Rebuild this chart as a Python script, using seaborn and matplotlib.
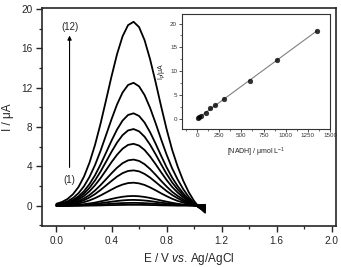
import numpy as np
import pandas as pd
import matplotlib
matplotlib.use("Agg")
import matplotlib.pyplot as plt
from matplotlib.ticker import MultipleLocator
import seaborn as sns

# ---------------- data ----------------
potential = [0.00, 0.04, 0.08, 0.12, 0.16, 0.20, 0.24, 0.28, 0.32, 0.36, 0.40, 0.44, 0.48, 0.52,
             0.56, 0.60, 0.64, 0.68, 0.72, 0.76, 0.80, 0.84, 0.88, 0.92, 0.96, 1.00, 1.04, 1.08]

curve_1 = [0.00, 0.00, 0.00, 0.01, 0.01, 0.02, 0.02, 0.03, 0.04, 0.06, 0.07, 0.08, 0.09, 0.10,
           0.10, 0.10, 0.09, 0.08, 0.07, 0.05, 0.04, 0.03, 0.02, 0.03, 0.04, 0.06, 0.08, 0.10]
curve_2 = [0.00, 0.01, 0.01, 0.02, 0.03, 0.05, 0.07, 0.10, 0.13, 0.17, 0.21, 0.25, 0.28, 0.29,
           0.30, 0.29, 0.27, 0.24, 0.20, 0.16, 0.12, 0.09, 0.06, 0.05, 0.04, 0.04, 0.05, 0.05]
curve_3 = [0.01, 0.01, 0.02, 0.04, 0.06, 0.10, 0.14, 0.20, 0.27, 0.34, 0.42, 0.49, 0.55, 0.59,
           0.60, 0.58, 0.54, 0.48, 0.40, 0.32, 0.25, 0.18, 0.13, 0.09, 0.05, 0.03, 0.02, 0.01]
curve_4 = [0.01, 0.02, 0.04, 0.06, 0.10, 0.16, 0.24, 0.33, 0.45, 0.57, 0.70, 0.82, 0.92, 0.98,
           1.00, 0.97, 0.90, 0.80, 0.67, 0.54, 0.42, 0.31, 0.21, 0.13, 0.07, 0.02, -0.03, -0.05]
curve_5 = [0.03, 0.05, 0.09, 0.15, 0.24, 0.37, 0.55, 0.78, 1.05, 1.35, 1.65, 1.94, 2.16, 2.31,
           2.35, 2.28, 2.12, 1.87, 1.58, 1.27, 0.98, 0.72, 0.50, 0.33, 0.17, 0.05, -0.03, -0.10]
curve_6 = [0.04, 0.08, 0.13, 0.23, 0.37, 0.57, 0.85, 1.19, 1.61, 2.07, 2.53, 2.97, 3.32, 3.54,
           3.60, 3.50, 3.24, 2.87, 2.42, 1.95, 1.50, 1.10, 0.77, 0.48, 0.25, 0.06, -0.09, -0.20]
curve_7 = [0.05, 0.10, 0.17, 0.30, 0.48, 0.75, 1.10, 1.56, 2.10, 2.70, 3.31, 3.87, 4.33, 4.62,
           4.70, 4.56, 4.23, 3.74, 3.16, 2.54, 1.96, 1.43, 1.01, 0.64, 0.33, 0.08, -0.11, -0.25]
curve_8 = [0.07, 0.13, 0.23, 0.40, 0.64, 1.00, 1.48, 2.09, 2.81, 3.62, 4.44, 5.19, 5.80, 6.19,
           6.30, 6.12, 5.67, 5.01, 4.23, 3.41, 2.62, 1.92, 1.35, 0.86, 0.45, 0.12, -0.13, -0.30]
curve_9 = [0.09, 0.16, 0.29, 0.49, 0.80, 1.24, 1.83, 2.58, 3.48, 4.48, 5.49, 6.43, 7.18, 7.66,
           7.80, 7.57, 7.02, 6.21, 5.24, 4.22, 3.24, 2.38, 1.67, 1.07, 0.55, 0.13, -0.18, -0.40]
curve_10 = [0.10, 0.20, 0.35, 0.59, 0.96, 1.49, 2.21, 3.11, 4.19, 5.40, 6.62, 7.75, 8.66, 9.23,
            9.40, 9.13, 8.46, 7.48, 6.32, 5.09, 3.91, 2.87, 2.01, 1.28, 0.67, 0.18, -0.20, -0.45]
curve_11 = [0.14, 0.26, 0.46, 0.79, 1.28, 1.99, 2.94, 4.14, 5.58, 7.18, 8.80, 10.30, 11.51, 12.28,
            12.50, 12.14, 11.25, 9.95, 8.40, 6.76, 5.20, 3.81, 2.68, 1.71, 0.91, 0.26, -0.22, -0.55]
curve_12 = [0.21, 0.39, 0.69, 1.18, 1.91, 2.97, 4.39, 6.19, 8.34, 10.73, 13.16, 15.41, 17.22, 18.36,
            18.70, 18.16, 16.83, 14.89, 12.57, 10.12, 7.78, 5.70, 4.00, 2.57, 1.40, 0.48, -0.20, -0.70]

curves = [curve_1, curve_2, curve_3, curve_4, curve_5, curve_6,
          curve_7, curve_8, curve_9, curve_10, curve_11, curve_12]

nadh_conc = [10, 25, 50, 100, 150, 200, 300, 600, 900, 1350]
peak_current = [0.15, 0.35, 0.7, 1.35, 2.2, 2.9, 4.1, 8.0, 12.3, 18.5]

main_xticks = [0.0, 0.4, 0.8, 1.2, 1.6, 2.0]
main_yticks = [0, 4, 8, 12, 16, 20]
inset_xticks = [0, 250, 500, 750, 1000, 1250, 1500]
inset_yticks = [0, 5, 10, 15, 20]

# ---------------- style ----------------
sns.set_style("ticks")
plt.rcParams["font.family"] = ["Liberation Sans", "DejaVu Sans"]
plt.rcParams["mathtext.fontset"] = "custom"
plt.rcParams["mathtext.rm"] = "Liberation Sans"
plt.rcParams["mathtext.it"] = "Liberation Sans:italic"

rows = []
for k, c in enumerate(curves):
    for e, i in zip(potential, c):
        rows.append({"E": e, "I": i, "curve": k + 1})
df = pd.DataFrame(rows)

fig = plt.figure(figsize=(3.41, 2.67), dpi=100)
ax = fig.add_axes([0.1232, 0.1536, 0.862, 0.8164])

sns.lineplot(data=df, x="E", y="I", units="curve", estimator=None, sort=False,
             color="black", linewidth=1.3, ax=ax, legend=False)

ax.set_xlim(-0.105, 2.03)
ax.set_ylim(-2.05, 20.1)
ax.set_xticks(main_xticks)
ax.set_xticklabels(["0.0", "0.4", "0.8", "1.2", "1.6", "2.0"])
ax.set_yticks(main_yticks)
ax.xaxis.set_minor_locator(MultipleLocator(0.2))
ax.yaxis.set_minor_locator(MultipleLocator(2))
ax.tick_params(which="major", direction="out", length=4, width=1.0, labelsize=7.2, pad=3)
ax.tick_params(which="minor", direction="out", length=2.5, width=0.9)
for s in ax.spines.values():
    s.set_linewidth(1.2)
    s.set_visible(True)
ax.set_xlabel("E / V $\\it{vs}$. Ag/AgCl", fontsize=8.5, labelpad=4)
ax.set_ylabel("I / μA", fontsize=8.5, labelpad=5)

# arrow and labels
ax.annotate("", xy=(0.095, 17.3), xytext=(0.095, 3.9),
            arrowprops=dict(arrowstyle="-|>", color="black", lw=0.8, mutation_scale=6,
                            shrinkA=0, shrinkB=0))
ax.text(0.095, 18.2, "(12)", ha="center", va="center", fontsize=7)
ax.text(0.095, 2.6, "(1)", ha="center", va="center", fontsize=7)

# ---------------- inset ----------------
ins = fig.add_axes([0.5337, 0.5187, 0.434, 0.429])
sns.regplot(x=nadh_conc, y=peak_current, ci=None, truncate=True, ax=ins,
            scatter_kws=dict(s=12, color="black", edgecolor="black", linewidths=0.3, zorder=3),
            line_kws=dict(color="#808080", lw=0.8, zorder=2))
ins.set_xlim(-170, 1500)
ins.set_ylim(-2, 22)
ins.set_xticks(inset_xticks)
ins.set_yticks(inset_yticks)
ins.xaxis.set_minor_locator(MultipleLocator(125))
ins.yaxis.set_minor_locator(MultipleLocator(2.5))
ins.tick_params(which="major", direction="out", length=2, width=0.6, labelsize=4.5, pad=1.5,
                colors="#333333")
ins.tick_params(which="minor", direction="out", length=1.2, width=0.5, colors="#333333")
for s in ins.spines.values():
    s.set_linewidth(0.8)
    s.set_color("#333333")
ins.set_xlabel("[NADH] / μmol L$^{-1}$", fontsize=5, labelpad=5, color="#222222")
ins.set_ylabel("I$_p$/μA", fontsize=5, labelpad=2, color="#222222")

fig.savefig("out.png", dpi=100)
